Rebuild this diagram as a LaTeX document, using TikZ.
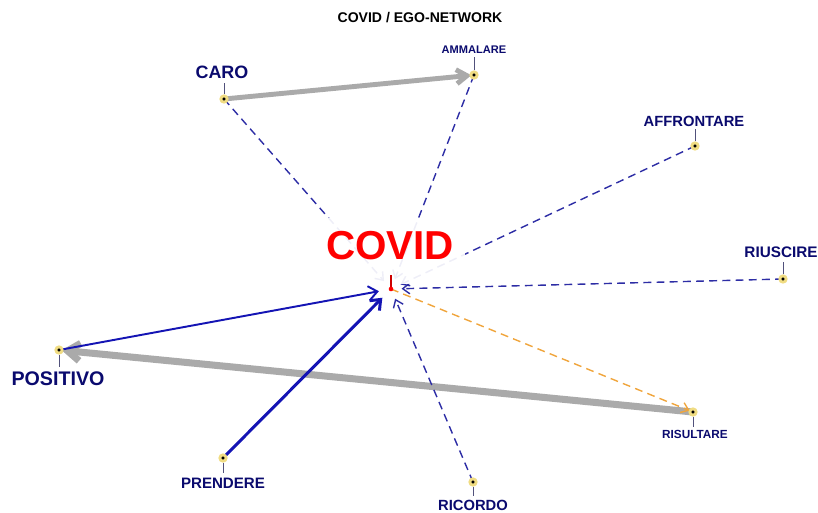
\documentclass[tikz,border=0pt]{standalone}
\usepackage{fontspec}
\setmainfont{Liberation Sans}
\usetikzlibrary{arrows.meta}
\definecolor{navy}{RGB}{10,10,110}
\definecolor{edgeblue}{RGB}{20,20,180}
\definecolor{dashblue}{RGB}{45,45,165}
\definecolor{grayedge}{RGB}{170,170,170}
\definecolor{orangeedge}{RGB}{240,165,60}
\definecolor{halo}{RGB}{240,220,130}
\tikzset{
  vert/.style={circle, fill=black, draw=halo, line width=1.6pt, inner sep=0pt, minimum size=3.6pt},
  lab/.style={text=navy, font=\bfseries, inner sep=0pt},
  tick/.style={draw=navy!60!black!70, line width=0.5pt},
  dashin/.style={draw=dashblue, line width=0.8pt, dash pattern=on 4.5pt off 3pt, -{Straight Barb[length=4pt,width=6pt]}, shorten >=6pt},
  solidin/.style={draw=edgeblue, -{Straight Barb[length=5pt,width=8pt]}, shorten >=7pt},
  grayarr/.style={draw=grayedge, -{Straight Barb[length=6pt,width=8pt]}, shorten >=1.5pt},
}
\begin{document}
\begin{tikzpicture}[x=0.02cm, y=-0.02cm]
\useasboundingbox (0,0) rectangle (818,512);
% vertices (positions)
\coordinate (cov) at (391,289);
\coordinate (caro) at (224,99);
\coordinate (amm) at (474,75);
\coordinate (aff) at (695,146);
\coordinate (riu) at (783,279);
\coordinate (ris) at (693,412);
\coordinate (ric) at (473,482);
\coordinate (pre) at (223,458);
\coordinate (pos) at (59,350);
% title
\node[font=\bfseries\fontsize{8}{9}\selectfont, inner sep=0pt] (title) at (420,18) {COVID / EGO-NETWORK};
% edges
\draw[grayarr, line width=4pt, -{Straight Barb[length=7pt,width=10pt]}] (ris) -- (pos);
\draw[grayarr, line width=2.8pt] (caro) -- (amm);
\draw[dashin] (caro) -- (cov);
\draw[dashin] (amm) -- (cov);
\draw[dashin] (aff) -- (cov);
\draw[dashin] (riu) -- (cov);
\draw[dashin] (ric) -- (cov);
\draw[solidin, line width=1.1pt] (pos) -- (cov);
\draw[solidin, line width=1.7pt] (pre) -- (cov);
\draw[draw=orangeedge, line width=0.8pt, dash pattern=on 4.5pt off 3pt, -{Straight Barb[length=4pt,width=6pt]}, shorten >=2pt] (cov) -- (ris);
% ego label box
\node[fill=white, fill opacity=0.92, inner sep=0pt, minimum width=145*0.02cm, minimum height=66*0.02cm] (covbox) at (392,251) {};
\draw[draw=red!80!black, line width=0.7pt] (cov) -- ++(0,-14);
\node[font=\bfseries\fontsize{23}{25}\selectfont, text=red, inner sep=0pt] (covlab) at (390,246) {COVID};
\fill[red] (cov) circle (1.3pt);
% vertex markers
\foreach \v in {caro,amm,aff,riu,ris,ric,pre,pos} \node[vert] (\v v) at (\v) {};
% labels with ticks
\node[lab, font=\bfseries\fontsize{10.2}{12}\selectfont] (caroL) at (222,72) {CARO};
\draw[tick] (carov) -- (224,83);
\node[lab, font=\bfseries\fontsize{6.3}{7}\selectfont] (ammL) at (474,50) {AMMALARE};
\draw[tick] (ammv) -- (474,57);
\node[lab, font=\bfseries\fontsize{8.4}{10}\selectfont] (affL) at (694,121) {AFFRONTARE};
\draw[tick] (affv) -- (695,129);
\node[lab, font=\bfseries\fontsize{8.7}{10}\selectfont] (riuL) at (781,252) {RIUSCIRE};
\draw[tick] (riuv) -- (783,262);
\node[lab, font=\bfseries\fontsize{6.7}{8}\selectfont] (risL) at (695,434) {RISULTARE};
\draw[tick] (risv) -- (693,427);
\node[lab, font=\bfseries\fontsize{8.4}{10}\selectfont] (ricL) at (473,505) {RICORDO};
\draw[tick] (ricv) -- (473,496);
\node[lab, font=\bfseries\fontsize{8.6}{10}\selectfont] (preL) at (223,483) {PRENDERE};
\draw[tick] (prev) -- (223,473);
\node[lab, font=\bfseries\fontsize{11.2}{13}\selectfont] (posL) at (58,379) {POSITIVO};
\draw[tick] (posv) -- (59,367);
\end{tikzpicture}
\end{document}
